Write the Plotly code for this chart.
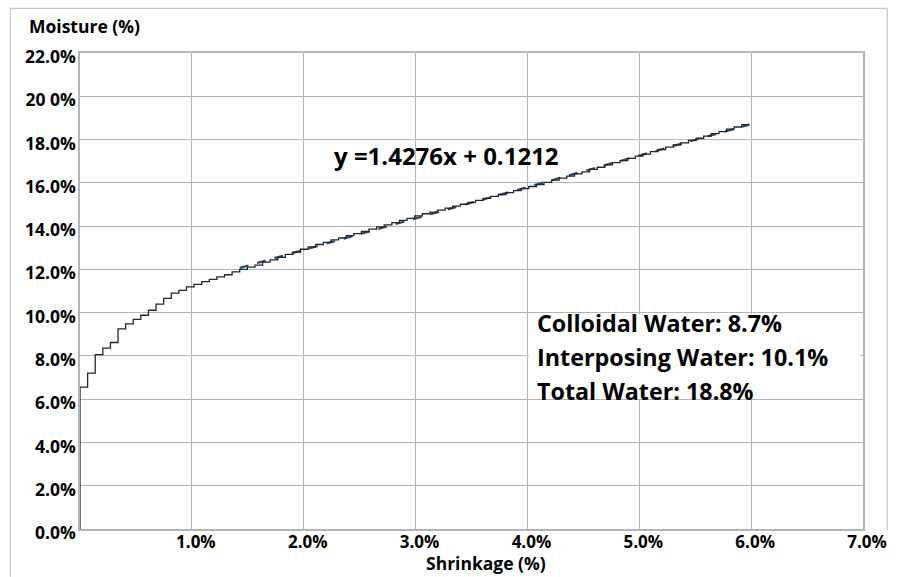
import numpy as np
import plotly.graph_objects as go

# Step boundaries of the shrinkage readings (%), and the moisture level (%) held on each step
shrinkage = [0.000, 0.068, 0.136, 0.204, 0.272, 0.340, 0.408, 0.476, 0.544, 0.612,
             0.680, 0.748, 0.816, 0.884, 0.952, 1.020, 1.088, 1.156, 1.224, 1.292,
             1.360, 1.428, 1.496, 1.564, 1.632, 1.700, 1.768, 1.836, 1.904, 1.972,
             2.040, 2.108, 2.176, 2.244, 2.312, 2.380, 2.448, 2.516, 2.584, 2.652,
             2.720, 2.788, 2.856, 2.924, 2.992, 3.060, 3.128, 3.196, 3.264, 3.332,
             3.400, 3.468, 3.536, 3.604, 3.672, 3.740, 3.808, 3.876, 3.944, 4.012,
             4.080, 4.148, 4.216, 4.284, 4.352, 4.420, 4.488, 4.556, 4.624, 4.692,
             4.760, 4.828, 4.896, 4.964, 5.032, 5.100, 5.168, 5.236, 5.304, 5.372,
             5.440, 5.508, 5.576, 5.644, 5.712, 5.780, 5.848, 5.916, 5.984]

moisture = [6.56, 7.20, 8.06, 8.36, 8.62, 9.25, 9.48, 9.69, 9.88, 10.11,
            10.39, 10.66, 10.90, 11.03, 11.19, 11.31, 11.43, 11.54, 11.65, 11.75,
            11.88, 12.00, 12.10, 12.20, 12.33, 12.44, 12.55, 12.69, 12.80, 12.93,
            13.04, 13.15, 13.25, 13.36, 13.45, 13.56, 13.65, 13.75, 13.86, 13.96,
            14.06, 14.16, 14.26, 14.36, 14.47, 14.57, 14.65, 14.74, 14.83, 14.92,
            15.01, 15.10, 15.19, 15.28, 15.37, 15.46, 15.55, 15.64, 15.73, 15.83,
            15.92, 16.02, 16.12, 16.22, 16.31, 16.41, 16.51, 16.62, 16.72, 16.83,
            16.93, 17.03, 17.13, 17.23, 17.33, 17.44, 17.54, 17.65, 17.75, 17.85,
            17.96, 18.06, 18.16, 18.27, 18.37, 18.48, 18.58, 18.69]

y_tickvals = [0, 2, 4, 6, 8, 10, 12, 14, 16, 18, 20, 22]
y_ticktext = ["0.0%", "2.0%", "4.0%", "6.0%", "8.0%", "10.0%", "12.0%",
              "14.0%", "16.0%", "18.0%", "20 0%", "22.0%"]
x_tickvals = [1, 2, 3, 4, 5, 6, 7]
x_ticktext = ["1.0%", "2.0%", "3.0%", "4.0%", "5.0%", "6.0%", "7.0%"]

equation_text = "y =1.4276x + 0.1212"
water_lines = ["Colloidal Water: 8.7%", "Interposing Water: 10.1%", "Total Water: 18.8%"]

FIT_START = 21  # first step of the linear stretch

# staircase path: starts at the origin, then one level per step
step_x = [0.0] + shrinkage
step_y = [0.0] + moisture + [moisture[-1]]

# linear trend of the straight stretch
sx = np.array(shrinkage)
mid = (sx[:-1] + sx[1:]) / 2
my = np.array(moisture)
slope, intercept = np.polyfit(mid[FIT_START:], my[FIT_START:], 1)
trend_x = [shrinkage[FIT_START], shrinkage[-1]]
trend_y = [slope * v + intercept for v in trend_x]

FONT = "Open Sans"
GRID = "#b4b4b4"

fig = go.Figure()
fig.add_trace(go.Scatter(x=trend_x, y=trend_y, mode="lines",
                         line=dict(color="#1f4e79", width=2.2, dash="dash"),
                         hoverinfo="skip", showlegend=False))
fig.add_trace(go.Scatter(x=step_x, y=step_y, mode="lines",
                         line=dict(color="#262626", width=1.3, shape="hv"),
                         showlegend=False))

W, H = 899, 577
L, R, T, B = 80, 866.7, 52.7, 529.3


def px(xp):
    return (xp - L) / (R - L)


def py(yp):
    return (B - yp) / (B - T)


# white panel behind the water figures
fig.add_shape(type="rect", xref="paper", yref="paper",
              x0=px(534), x1=px(836), y0=py(399), y1=py(314),
              fillcolor="white", line=dict(width=0), layer="above")
fig.add_shape(type="rect", xref="paper", yref="paper",
              x0=px(531), x1=px(864), y0=py(372), y1=py(342),
              fillcolor="white", line=dict(width=0), layer="above")

# outer frame of the chart
frame = dict(color="#c4c4c4", width=1.2)
fig.add_shape(type="line", xref="paper", yref="paper",
              x0=px(10), x1=px(10), y0=py(577), y1=py(8), line=frame)
fig.add_shape(type="line", xref="paper", yref="paper",
              x0=px(10), x1=px(891), y0=py(8), y1=py(8), line=frame)
fig.add_shape(type="line", xref="paper", yref="paper",
              x0=px(891), x1=px(891), y0=py(8), y1=py(530), line=frame)

for i, line in enumerate(water_lines):
    fig.add_annotation(xref="paper", yref="paper", x=px(537), y=py(323 + i * 34),
                       text=line, showarrow=False, xanchor="left", yanchor="middle",
                       font=dict(family=FONT, size=23.3, color="black", weight="bold"))

fig.add_annotation(xref="paper", yref="paper", x=px(448), y=py(155),
                   text=equation_text, showarrow=False, xanchor="center", yanchor="middle",
                   font=dict(family=FONT, size=24, color="black", weight="bold"))

fig.add_annotation(xref="paper", yref="paper", x=px(27), y=py(26),
                   text="Moisture (%)", showarrow=False, xanchor="left", yanchor="middle",
                   font=dict(family=FONT, size=17.5, color="black", weight="bold"))
fig.add_annotation(xref="paper", yref="paper", x=px(488), y=py(563),
                   text="Shrinkage (%)", showarrow=False, xanchor="center", yanchor="middle",
                   font=dict(family=FONT, size=17.5, color="black", weight="bold"))

fig.update_xaxes(range=[0, 7], tickvals=x_tickvals, ticktext=x_ticktext,
                 showgrid=True, gridcolor=GRID, gridwidth=1.2,
                 showline=True, linecolor=GRID, linewidth=1.5, mirror=True,
                 zeroline=False, ticks="", ticklabelstandoff=-3, ticklabelshift=4,
                 tickfont=dict(family=FONT, size=17, color="black", weight="bold"))
fig.update_yaxes(range=[0, 22], tickvals=y_tickvals, ticktext=y_ticktext,
                 showgrid=True, gridcolor=GRID, gridwidth=1.2,
                 showline=True, linecolor=GRID, linewidth=1.5, mirror=True,
                 zeroline=False, ticks="", ticklabelstandoff=-1, ticklabelshift=4,
                 tickfont=dict(family=FONT, size=17.5, color="black", weight="bold"))

fig.update_layout(width=W, height=H, autosize=False,
                  margin=dict(l=L, r=W - R, t=T, b=H - B, pad=0),
                  paper_bgcolor="white", plot_bgcolor="white",
                  font=dict(family=FONT))

fig.write_html("out.html")
